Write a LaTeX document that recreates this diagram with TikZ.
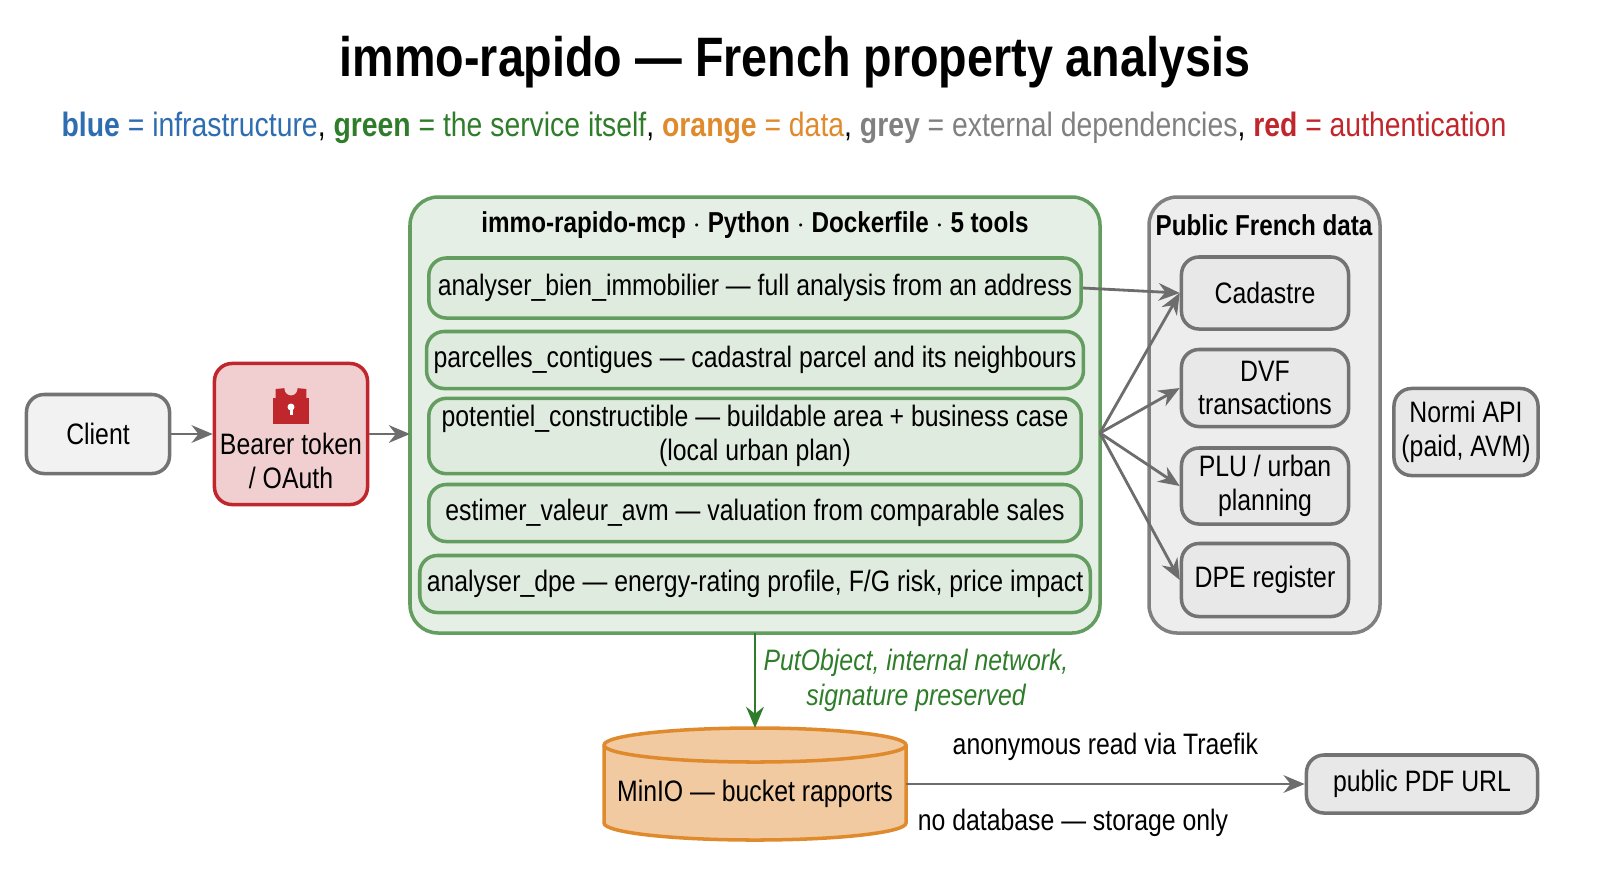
\documentclass[tikz,border=0pt]{standalone}
\usepackage{fontspec}
\setmainfont{Liberation Sans}[FakeStretch=0.84]
\usetikzlibrary{positioning,shapes.geometric,arrows.meta}
\definecolor{infra}{HTML}{2E6DB0}
\definecolor{svc}{HTML}{2F7D2A}
\definecolor{dat}{HTML}{E08A2E}
\definecolor{ext}{HTML}{808080}
\definecolor{auth}{HTML}{C0272D}
\tikzset{
  box/.style={draw, rounded corners=5pt, line width=1pt, align=center, font=\fontsize{8.4}{9.6}\selectfont, inner sep=2pt},
  grey box/.style={box, draw=ext!90!black, fill=gray!18},
  tool/.style={box, draw=svc!75, fill=svc!15, minimum width=6.52cm},
  link/.style={-{Stealth[length=6pt,width=5pt]}, line width=0.8pt, draw=ext!85!black},
}
\begin{document}
\begin{tikzpicture}[x=0.01cm, y=-0.01cm]
\useasboundingbox (0,0) rectangle (1600,893);

% headings
\node (title) at (795,62) {\fontsize{15.8}{18}\selectfont\bfseries immo-rapido --- French property analysis};
\node (legend) at (784,128) {\fontsize{9.6}{11}\selectfont
  \textcolor{infra}{\bfseries blue\mdseries~= infrastructure}, \textcolor{svc}{\bfseries green\mdseries~= the service itself}, \textcolor{dat}{\bfseries orange\mdseries~= data}, \textcolor{ext}{\bfseries grey\mdseries~= external dependencies}, \textcolor{auth}{\bfseries red\mdseries~= authentication}};

% containers
\draw [rounded corners=8pt, line width=1pt, draw=svc!75, fill=svc!12] (410,197) rectangle (1100,633);
\node (mcp) at (755,225) {\fontsize{8.2}{10}\selectfont\bfseries immo-rapido-mcp $\cdot$ Python $\cdot$ Dockerfile $\cdot$ 5 tools};
\draw [rounded corners=8pt, line width=1pt, draw=ext, fill=gray!14] (1149,197) rectangle (1380,633);
\node (pub) at (1264,225) {\fontsize{8.2}{10}\selectfont\bfseries Public French data};

% client and auth
\node [grey box, fill=gray!10, minimum width=1.43cm, minimum height=0.79cm] (client) at (98,434) {Client};
\node [box, draw=auth, fill=auth!22, minimum width=1.53cm, minimum height=1.41cm] (auth) at (291,434) {};
\node [font=\fontsize{8.4}{9.6}\selectfont, align=center] (auth-text) at (291,461) {Bearer token\\/ OAuth};
\fill [auth] (273,398) rectangle (309,424);
\draw [auth, line width=2.5pt] (280,398) -- (280,389) arc[start angle=180, end angle=0, radius=11] -- (302,398);
\fill [white] (291,407) circle (3.5);
\fill [white] (289.5,407) rectangle (292.5,415);

% tools
\foreach \n/\y/\h/\t in {
  1/288/0.6/{analyser\_bien\_immobilier --- full analysis from an address},
  2/360/0.57/{parcelles\_contigues --- cadastral parcel and its neighbours},
  3/436/0.67/{potentiel\_constructible --- buildable area + business case\\(local urban plan)},
  4/513/0.57/{estimer\_valeur\_avm --- valuation from comparable sales},
  5/584/0.57/{analyser\_dpe --- energy-rating profile, F/G risk, price impact}}
  \node [tool, minimum height=\h cm] (tool-\n) at (755,\y) {\t};

% public data
\foreach \n/\y/\h/\t in {cad/293/0.72/Cadastre, dvf/388/0.77/{DVF\\transactions}, plu/486/0.76/{PLU / urban\\planning}, dpe/580/0.73/{DPE register}}
  \node [grey box, minimum width=1.67cm, minimum height=\h cm] (\n) at (1265,\y) {\t};
\node [grey box, minimum width=1.44cm, minimum height=0.87cm] (normi) at (1466,432) {Normi API\\(paid, AVM)};

% storage
\filldraw [draw=dat, fill=dat!45, line width=1pt] (604,745) -- (604,823) arc[start angle=180, end angle=0, x radius=151, y radius=17] -- (906,745) arc[start angle=0, end angle=-180, x radius=151, y radius=17] -- cycle;
\draw [draw=dat, line width=1pt] (604,745) arc[start angle=180, end angle=0, x radius=151, y radius=17];
\node [font=\fontsize{8.4}{10}\selectfont] (minio) at (755,794) {MinIO --- bucket rapports};
\coordinate (minio-top) at (755,728);
\coordinate (minio-right) at (906,784);
\node [grey box, minimum width=2.31cm, minimum height=0.58cm] (pdf) at (1422,784) {public PDF URL};

% connectors
\coordinate (fan) at (1100,433);
\draw [link] (client) -- (auth);
\draw [link] (auth) -- (410,434);
\draw [link] (tool-1.east) -- (cad.west);
\foreach \n in {cad, dvf, plu, dpe}
  \draw [link] (fan) -- (\n.west);
\draw [link, draw=svc] (755,633) -- (minio-top);
\node [align=center, text=svc, font=\fontsize{8.4}{10}\selectfont\itshape] (put) at (916,680) {PutObject, internal network,\\signature preserved};
\draw [link] (minio-right) -- (pdf.west)
  node [above=3pt, midway, font=\fontsize{8.4}{10}\selectfont] {anonymous read via Traefik};
\node [font=\fontsize{8.4}{10}\selectfont] (nodb) at (1073,823) {no database --- storage only};
\end{tikzpicture}
\end{document}
